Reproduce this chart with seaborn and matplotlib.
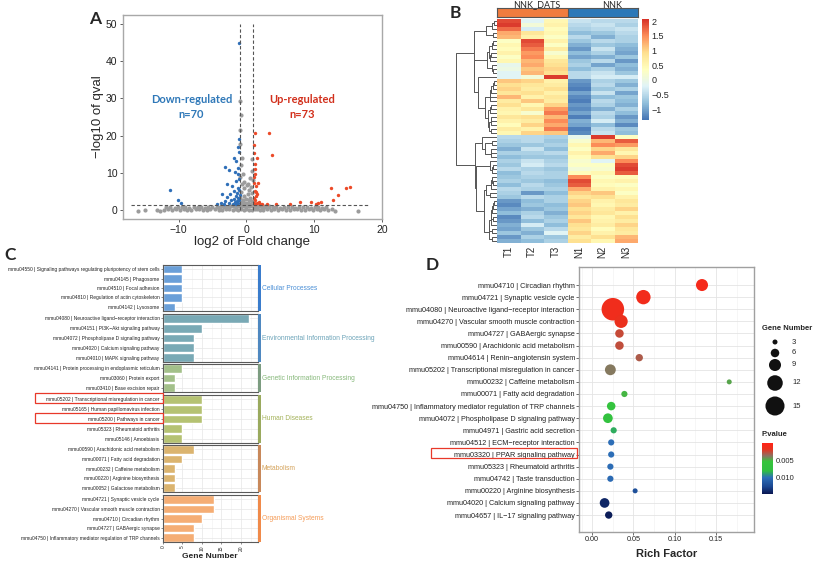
import numpy as np
import pandas as pd
import seaborn as sns
import matplotlib.pyplot as plt
from matplotlib.colors import LinearSegmentedColormap, ListedColormap, Normalize
from matplotlib.cm import ScalarMappable
from matplotlib.patches import Rectangle

sns.set_theme(style="white")
plt.rcParams['font.family'] = ['Liberation Sans', 'DejaVu Sans']
HEAD = ['Lato', 'DejaVu Sans']

# ---------------- A: volcano data ----------------
gray_x = [-12.1, -11.5, -10.9, -10.4, -9.8, -9.2, -8.7, -8.1, -7.5, -7.0, -6.4, -5.8, -5.3, -4.7,
          -4.1, -3.6, -3.0, -2.5, -2.0, -1.6, -1.2, -0.8, -0.4, 0.0, 0.4, 0.8, 1.2, 1.6, 2.0, 2.5,
          3.0, 3.6, 4.1, 4.7, 5.3, 5.8, 6.4, 7.0, 7.5, 8.1, 8.7, 9.2, 9.8, 10.4, 10.9, 11.5, 12.0,
          -11.8, -11.2, -10.6, -10.1, -9.5, -9.0, -8.4, -7.8, -7.2, -6.7, -6.1, -5.6, -5.0, -4.4,
          -3.9, -3.3, -2.8, -2.3, -1.8, -1.4, -1.0, -0.6, -0.2, 0.2, 0.6, 1.0, 1.4, 1.8, 2.3, 2.8,
          3.3, 3.9, 4.4, 5.0, 5.6, 6.1, 6.7, 7.2, 7.8, 8.4, 9.0, 9.5, 10.1, 10.6, 11.2, 11.8,
          -0.9, -0.85, -0.9, -0.95, -0.7, -0.8, 0.9, 0.85, -0.5, 0.6, -0.6, -0.3, 0.1, 0.4, 0.7,
          -0.8, 0.9, -0.4, 0.2, 0.6, -0.9, -0.1, 0.8, -0.6, 0.3, -0.2, 0.5, -0.7, 0.0, -0.4, 0.3,
          -0.95, 0.95, -1.8, 1.9, -2.6, 2.8, -1.0, 1.0, -3.5, 3.4, -0.5, 0.45,
          -16.0, -14.9, -13.2, -12.8, 12.6, 13.0, 16.4]
gray_y = [0.1, 0.2, 0.0, 0.3, 0.1, 0.2, 0.0, 0.1, 0.3, 0.2, 0.0, 0.1, 0.2, 0.3,
          0.1, 0.0, 0.2, 0.3, 0.1, 0.2, 0.0, 0.3, 0.1, 0.2, 0.0, 0.1, 0.3, 0.2, 0.1, 0.0,
          0.2, 0.1, 0.3, 0.0, 0.2, 0.1, 0.0, 0.3, 0.2, 0.1, 0.0, 0.2, 0.1, 0.3, 0.0, 0.2, 0.1,
          0.7, 0.8, 0.6, 0.9, 0.7, 0.8, 0.6, 0.9, 0.7, 0.8, 0.6, 0.7, 0.9, 0.8,
          0.7, 0.9, 0.8, 1.0, 1.1, 1.2, 1.0, 1.1, 1.2, 1.1, 1.2, 1.0, 1.2, 1.1, 0.9, 0.8,
          0.7, 0.9, 0.8, 0.6, 0.7, 0.9, 0.8, 0.6, 0.7, 0.8, 0.9, 0.6, 0.8, 0.7, 0.6, 0.7,
          29.3, 25.5, 21.5, 17.8, 14.0, 12.2, 13.6, 10.4, 9.6, 8.7, 6.9, 5.8, 6.6, 5.4, 6.2,
          4.9, 4.6, 3.9, 4.2, 3.3, 3.2, 2.9, 2.4, 2.3, 2.0, 1.8, 1.6, 1.5, 1.4, 7.6, 7.1,
          9.0, 8.0, 1.0, 1.1, 1.1, 1.0, 1.2, 1.3, 1.2, 1.1, 2.6, 2.8,
          -0.2, 0.0, 0.1, -0.3, 0.3, -0.2, -0.3]
down_x = [-11.2, -10.1, -9.7, -4.3, -3.8, -3.3, -3.1, -2.9, -2.6, -2.4, -2.2, -2.1, -2.0, -1.9,
          -1.8, -1.7, -1.6, -1.6, -1.5, -1.5, -1.4, -1.4, -1.3, -1.3, -1.3, -1.2, -1.2, -1.2,
          -1.1, -1.1, -1.1, -1.1, -2.5, -3.2, -1.9, -2.9, -1.7, -3.6, -1.05, -1.05, -1.0]
down_y = [5.4, 2.7, 1.8, 1.6, 2.0, 1.5, 2.4, 3.4, 1.9, 4.3, 2.6, 6.5, 1.6, 3.1,
          5.0, 2.2, 7.8, 3.8, 1.7, 13.2, 4.6, 2.5, 17.0, 6.0, 9.7, 3.2, 1.9, 11.2,
          45.0, 5.4, 8.3, 15.5, 10.8, 11.5, 14.0, 7.0, 10.1, 4.4, 2.8, 19.0, 4.0]
up_x = [1.2, 3.4, 1.5, 3.8, 1.1, 1.2, 1.3, 1.1, 1.4, 1.2, 1.5, 1.1, 1.3, 1.6, 1.2, 1.8, 2.0,
        2.3, 1.4, 1.1, 1.7, 1.25, 1.15, 3.0, 4.4, 6.5, 7.9, 9.6, 10.3, 11.0, 10.6, 12.8,
        13.5, 12.5, 14.7, 15.3, 1.05, 1.35]
up_y = [20.8, 20.6, 14.0, 14.8, 15.3, 12.5, 9.8, 7.4, 6.4, 5.2, 4.2, 3.3, 2.6, 1.8, 1.6, 2.2,
        1.5, 1.7, 3.8, 2.0, 7.3, 11.0, 8.8, 1.5, 1.6, 1.6, 2.3, 2.1, 1.7, 2.3, 1.8, 2.7,
        4.0, 5.9, 5.9, 6.1, 17.5, 4.8]

# ---------------- B: heatmap data (z-scores, rows top to bottom) ----------------
samples = ["T1", "T2", "T3", "N1", "N2", "N3"]
groups = [0, 0, 0, 1, 1, 1]
heat = np.array([
    [1.9, -0.2, 0.5, -0.4, -0.5, -0.5], [2.0, 0.1, 0.6, -0.5, -0.4, -0.6],
    [1.7, -0.3, 0.4, -0.6, -0.5, -0.4], [1.3, 0.8, 0.5, -0.8, -0.7, -0.5],
    [1.2, 0.6, 0.3, -0.5, -0.9, -0.6], [0.3, 1.9, 0.6, -0.7, -0.5, -0.6],
    [0.5, 1.8, 0.3, -0.9, -0.7, -0.8], [0.4, 1.6, 0.7, -1.1, -0.4, -0.9],
    [0.6, 1.4, 0.2, -0.8, -0.6, -1.0], [0.3, 1.5, 0.5, -1.0, -0.9, -0.7],
    [0.5, 1.2, 0.8, -0.7, -0.5, -1.1], [-0.1, 1.3, 0.9, -0.6, -1.0, -0.8],
    [0.0, 1.1, 1.0, -0.8, -0.6, -0.9], [-0.2, 1.2, 0.9, -0.5, -0.4, -0.7],
    [-0.2, 0.1, 2.0, -0.5, -0.3, -0.3], [1.1, 1.0, 0.6, -1.1, -0.6, -0.7],
    [0.9, 0.8, 0.7, -1.2, -0.5, -0.9], [1.0, 0.7, 0.9, -1.3, -0.7, -0.6],
    [0.8, 0.9, 0.6, -1.0, -0.4, -1.0], [1.2, 0.6, 0.8, -1.2, -0.8, -0.7],
    [0.7, 1.1, 0.7, -1.3, -0.5, -0.8], [0.9, 0.5, 1.0, -1.1, -0.6, -0.9],
    [0.6, 0.8, 1.4, -1.2, -0.9, -0.6], [0.5, 0.2, 1.6, -1.0, -0.5, -0.8],
    [0.8, 0.9, 1.2, -1.3, -0.6, -1.1], [0.6, 0.7, 1.5, -0.9, -0.3, -0.9],
    [0.4, 1.0, 1.3, -1.0, -0.8, -1.2], [0.7, 0.6, 1.6, -1.3, -0.5, -0.7],
    [0.5, 1.0, 1.1, -1.2, -0.4, -0.8], [-0.5, -0.5, -0.6, -0.1, 2.0, 0.3],
    [-0.6, -0.5, -0.7, 0.2, 1.2, 1.8], [-0.7, -0.7, -0.6, 0.5, 1.5, 1.4],
    [-0.9, -0.4, -0.8, 0.3, 1.0, 0.8], [-0.6, -0.6, -0.5, 0.6, 1.3, 0.5],
    [-0.8, -0.7, -0.7, 0.4, 0.9, 1.0], [-0.6, -0.4, -0.6, 0.2, -0.2, 1.5],
    [-0.7, -0.3, -0.5, 0.3, 0.3, 1.9], [-0.5, -0.6, -0.7, 0.1, 0.2, 2.0],
    [-0.8, -0.5, -0.6, 0.4, 0.5, 1.8], [-0.7, -0.6, -0.6, 1.5, 0.3, 0.4],
    [-0.6, -0.7, -0.8, 1.9, 0.5, 0.6], [-0.8, -0.5, -0.7, 1.8, 0.4, 0.3],
    [-0.5, -0.6, -0.6, 1.3, 0.6, 0.5], [-0.6, -1.1, -0.8, 1.0, 1.1, 0.3],
    [-0.7, -0.5, -0.6, 0.8, 0.9, 0.6], [-1.1, -0.8, -0.6, 1.0, 0.6, 0.8],
    [-1.2, -0.7, -0.8, 1.1, 0.5, 0.7], [-1.0, -0.9, -0.7, 0.9, 0.7, 1.0],
    [-0.8, -0.6, -0.9, 1.0, 0.8, 0.6], [-1.2, -0.5, -0.7, 0.8, 0.5, 0.9],
    [-1.1, -0.8, -0.6, 1.1, 0.6, 0.7], [-0.9, -0.3, -0.8, 0.9, 0.7, 1.0],
    [-1.0, -0.7, -0.5, 0.8, 0.4, 0.8], [-0.7, -0.9, -0.2, 1.0, 0.6, 0.7],
    [-1.1, -0.6, -0.7, 0.7, 0.9, 1.2], [-0.9, -0.8, -0.6, 0.9, 0.5, 1.3],
])
heat_ticks = [-1, -0.5, 0, 0.5, 1, 1.5, 2]

# ---------------- C: KEGG classification ----------------
cell_terms = ["mmu04550 | Signaling pathways regulating pluripotency of stem cells", "mmu04145 | Phagosome",
              "mmu04510 | Focal adhesion", "mmu04810 | Regulation of actin cytoskeleton", "mmu04142 | Lysosome"]
cell_genes = [5, 5, 5, 5, 3]
env_terms = ["mmu04080 | Neuroactive ligand\u2212receptor interaction", "mmu04151 | PI3K\u2212Akt signaling pathway",
             "mmu04072 | Phospholipase D signaling pathway", "mmu04020 | Calcium signaling pathway",
             "mmu04010 | MAPK signaling pathway"]
env_genes = [22, 10, 8, 8, 8]
gen_terms = ["mmu04141 | Protein processing in endoplasmic reticulum", "mmu03060 | Protein export",
             "mmu03410 | Base excision repair"]
gen_genes = [5, 3, 3]
hum_terms = ["mmu05202 | Transcriptional misregulation in cancer", "mmu05165 | Human papillomavirus infection",
             "mmu05200 | Pathways in cancer", "mmu05323 | Rheumatoid arthritis", "mmu05146 | Amoebiasis"]
hum_genes = [10, 10, 10, 5, 5]
met_terms = ["mmu00590 | Arachidonic acid metabolism", "mmu00071 | Fatty acid degradation",
             "mmu00232 | Caffeine metabolism", "mmu00220 | Arginine biosynthesis", "mmu00052 | Galactose metabolism"]
met_genes = [8, 5, 3, 3, 3]
org_terms = ["mmu04721 | Synaptic vesicle cycle", "mmu04270 | Vascular smooth muscle contraction",
             "mmu04710 | Circadian rhythm", "mmu04727 | GABAergic synapse",
             "mmu04750 | Inflammatory mediator regulation of TRP channels"]
org_genes = [13, 13, 10, 8, 8]
class_names = ["Cellular Processes", "Environmental Information Processing", "Genetic Information Processing",
               "Human Diseases", "Metabolism", "Organismal Systems"]

# ---------------- D: enrichment ----------------
d_terms = ["mmu04710 | Circadian rhythm", "mmu04721 | Synaptic vesicle cycle",
           "mmu04080 | Neuroactive ligand\u2212receptor interaction", "mmu04270 | Vascular smooth muscle contraction",
           "mmu04727 | GABAergic synapse", "mmu00590 | Arachidonic acid metabolism",
           "mmu04614 | Renin\u2212angiotensin system", "mmu05202 | Transcriptional misregulation in cancer",
           "mmu00232 | Caffeine metabolism", "mmu00071 | Fatty acid degradation",
           "mmu04750 | Inflammatory mediator regulation of TRP channels",
           "mmu04072 | Phospholipase D signaling pathway", "mmu04971 | Gastric acid secretion",
           "mmu04512 | ECM\u2212receptor interaction", "mmu03320 | PPAR signaling pathway",
           "mmu05323 | Rheumatoid arthritis", "mmu04742 | Taste transduction",
           "mmu00220 | Arginine biosynthesis", "mmu04020 | Calcium signaling pathway",
           "mmu04657 | IL\u221217 signaling pathway"]
d_rich = [0.133, 0.062, 0.025, 0.035, 0.033, 0.033, 0.057, 0.022, 0.166, 0.039,
          0.023, 0.019, 0.026, 0.023, 0.023, 0.022, 0.022, 0.052, 0.015, 0.020]
d_genes = [9, 11, 18, 10, 6, 6, 5, 8, 3, 4, 6, 7, 4, 4, 4, 4, 4, 3, 7, 5]
d_pval = [0.0008, 0.0010, 0.0012, 0.0016, 0.0025, 0.0026, 0.0030, 0.0038, 0.0047, 0.0050,
          0.0060, 0.0065, 0.0085, 0.0100, 0.0101, 0.0102, 0.0103, 0.0120, 0.0140, 0.0144]
legend_genes = [3, 6, 9, 12, 15]

W, H = 817, 564
fig = plt.figure(figsize=(8.17, 5.64), dpi=100)


def box(x0, y0, x1, y1):
    return [x0 / W, 1 - y1 / H, (x1 - x0) / W, (y1 - y0) / H]


def dot_size(g):
    return ((1.5 + 1.17 * g) * 0.72) ** 2


# ---- A
axA = fig.add_axes(box(123, 15, 382, 219))
sns.scatterplot(x=gray_x, y=gray_y, ax=axA, color="#9c9c9c", s=9, linewidth=0, legend=False)
sns.scatterplot(x=down_x, y=down_y, ax=axA, color="#2f6fb8", s=6, linewidth=0, legend=False)
sns.scatterplot(x=up_x, y=up_y, ax=axA, color="#ec4a28", s=6, linewidth=0, legend=False)
axA.vlines([-1, 1], 0, 50, colors="#555555", linestyles=(0, (3, 2)), lw=0.8)
axA.hlines(1.3, -17, 18, colors="#555555", linestyles=(0, (3, 2)), lw=0.8)
axA.set_xlim(-18.2, 20)
axA.set_ylim(-2.4, 52.4)
axA.set_xticks([-10, 0, 10, 20])
axA.set_yticks([0, 10, 20, 30, 40, 50])
axA.tick_params(length=2.5, width=0.6, color="#444444", labelsize=7.5, pad=1.5, labelcolor="#222222",
                bottom=True, left=True)
for s in axA.spines.values():
    s.set_color("#a8a8a8")
    s.set_linewidth(1)
axA.set_xlabel("log2 of Fold change", fontsize=9.5, labelpad=1)
axA.set_ylabel("\u2212log10 of qval", fontsize=9.5, labelpad=1)
axA.text(-8.1, 29.6, "Down-regulated", ha="center", va="center", color="#2f78b8",
         fontsize=8, fontweight="bold", family=HEAD)
axA.text(-8.1, 25.8, "n=70", ha="center", va="center", color="#2f78b8", fontsize=8, fontweight="bold", family=HEAD)
axA.text(8.2, 29.6, "Up-regulated", ha="center", va="center", color="#d2301c",
         fontsize=8, fontweight="bold", family=HEAD)
axA.text(8.2, 25.8, "n=73", ha="center", va="center", color="#d2301c", fontsize=8, fontweight="bold", family=HEAD)

# ---- B
rdylbu = LinearSegmentedColormap.from_list(
    "rdylbu", ["#4575B4", "#91BFDB", "#E0F3F8", "#FFFFBF", "#FEE090", "#FC8D59", "#D73027"])
axH = fig.add_axes(box(497, 19, 638, 243))
axCb = fig.add_axes(box(642, 19, 649, 120))
sns.heatmap(heat, ax=axH, cmap=rdylbu, vmin=-1.37, vmax=2.07, cbar_ax=axCb,
            xticklabels=samples, yticklabels=False)
axH.set_xticklabels(samples, rotation=90)
axH.tick_params(axis="x", length=0, labelsize=7, pad=2)
cb = axH.collections[0].colorbar
cb.outline.set_visible(False)
cb.set_ticks(heat_ticks)
cb.set_ticklabels(["\u22121", "\u22120.5", "0", "0.5", "1", "1.5", "2"])
cb.ax.tick_params(length=0, labelsize=6.5, pad=2)

axAnn = fig.add_axes(box(497, 8, 638, 17))
sns.heatmap(np.array([groups]), ax=axAnn, cmap=ListedColormap(["#f07c3e", "#2c78b8"]), cbar=False,
            xticklabels=False, yticklabels=False)
for s in axAnn.spines.values():
    s.set_visible(True)
    s.set_color("#555555")
    s.set_linewidth(0.8)
axAnn.axvline(3, color="#555555", lw=0.8)


def adjacent_linkage(M):
    clusters = [[i] for i in range(len(M))]
    pos = [i + 0.5 for i in range(len(M))]
    hgt = [0.0] * len(M)
    segs = []
    while len(clusters) > 1:
        best = None
        for k in range(len(clusters) - 1):
            a = M[clusters[k]]
            b = M[clusters[k + 1]]
            d = np.sqrt(((a[:, None, :] - b[None, :, :]) ** 2).sum(-1)).max()
            if best is None or d < best[0]:
                best = (d, k)
        d, k = best
        h = max(d, hgt[k], hgt[k + 1])
        segs.append(([hgt[k], h, h, hgt[k + 1]], [pos[k], pos[k], pos[k + 1], pos[k + 1]]))
        clusters[k] = clusters[k] + clusters.pop(k + 1)
        pos[k] = (pos[k] + pos.pop(k + 1)) / 2
        hgt[k] = h
        hgt.pop(k + 1)
    return segs, hgt[0]


axDen = fig.add_axes(box(455, 19, 497, 243))
segs, root = adjacent_linkage(heat)
for xs, ys in segs:
    axDen.plot(xs, ys, color="#555555", lw=0.7)
axDen.set_xlim(root * 1.02, 0)
axDen.set_ylim(len(heat), 0)
axDen.axis("off")

# ---- C
c_terms = [cell_terms, env_terms, gen_terms, hum_terms, met_terms, org_terms]
c_genes = [cell_genes, env_genes, gen_genes, hum_genes, met_genes, org_genes]
bar_cols = ["#6a9fd8", "#79a9b5", "#a3c08a", "#b5c272", "#dbb46f", "#f5ad74"]
txt_cols = ["#4a8fd6", "#6ba3b8", "#86b87a", "#a4b25a", "#d4a25a", "#f59c58"]
strip_cols = ["#3a7ccc", "#4f88c0", "#7c9c80", "#9aaa5e", "#c8885a", "#f08a4a"]
facet_y = [(265, 311), (314, 362), (364, 392), (395, 443), (445, 492), (495, 542)]
for i in range(6):
    y0, y1 = facet_y[i]
    n = len(c_terms[i])
    ax = fig.add_axes(box(163, y0, 258, y1))
    sns.barplot(x=c_genes[i], y=c_terms[i], ax=ax, color=bar_cols[i], saturation=1, width=0.9, orient="h")
    ax.set_xlim(0, 24.4)
    ax.set_ylim(n - 0.55, -0.45)
    ax.set_xticks([0, 5, 10, 15, 20])
    ax.set_xticks([2.5, 7.5, 12.5, 17.5, 22.5], minor=True)
    ax.grid(True, which="major", color="#e6e6e6", lw=0.5)
    ax.grid(True, which="minor", axis="x", color="#f0f0f0", lw=0.4)
    ax.set_axisbelow(True)
    ax.set_xlabel("")
    ax.set_ylabel("")
    ax.tick_params(axis="y", labelsize=3.5, length=1.5, width=0.4, pad=1, color="#333333",
                   labelcolor="#222222", left=True)
    if i == 5:
        ax.tick_params(axis="x", labelsize=3.5, length=1.5, width=0.4, pad=1, rotation=90,
                       color="#333333", bottom=True)
    else:
        ax.tick_params(axis="x", labelbottom=False, length=0)
    for s in ax.spines.values():
        s.set_color("#5a5a5a")
        s.set_linewidth(0.8)
    st = fig.add_axes(box(258, y0, 261, y1))
    st.set_facecolor(strip_cols[i])
    st.set_xticks([])
    st.set_yticks([])
    for s in st.spines.values():
        s.set_visible(False)

# ---- D
pcmap = LinearSegmentedColormap.from_list("pv", [
    (0.0, "#ff2418"), (0.12, "#e8321e"), (0.25, "#8c7262"), (0.36, "#36c43c"),
    (0.55, "#30bf42"), (0.68, "#2d6fb8"), (0.86, "#1a4690"), (1.0, "#0a1650")])
pnorm = (0, 0.0147)
df_d = pd.DataFrame({"term": d_terms, "rich": d_rich, "genes": d_genes, "p": d_pval})
axDot = fig.add_axes(box(579, 267, 754, 532))
sns.scatterplot(data=df_d, x="rich", y="term", hue="p", palette=pcmap, hue_norm=pnorm,
                size="genes", sizes={g: dot_size(g) for g in set(d_genes)}, legend=False,
                linewidth=0, ax=axDot, zorder=3)
axDot.set_xlim(-0.016, 0.196)
axDot.set_ylim(20.4, -1.49)
axDot.set_xticks([0, 0.05, 0.10, 0.15])
axDot.set_xticklabels(["0.00", "0.05", "0.10", "0.15"])
axDot.set_xticks([-0.0125, 0.025, 0.075, 0.125, 0.175], minor=True)
axDot.grid(True, which="major", color="#e4e4e4", lw=0.6)
axDot.grid(True, which="minor", axis="x", color="#efefef", lw=0.4)
axDot.set_axisbelow(True)
axDot.set_xlabel("")
axDot.set_ylabel("")
axDot.tick_params(labelsize=5.2, length=2, width=0.5, pad=1, color="#333333", labelcolor="#222222",
                  left=True, bottom=True)
for s in axDot.spines.values():
    s.set_color("#a0a0a0")
    s.set_linewidth(1)

axP = fig.add_axes(box(762, 443, 773, 494))
cbp = fig.colorbar(ScalarMappable(norm=Normalize(*pnorm), cmap=pcmap), cax=axP)
axP.invert_yaxis()
cbp.outline.set_visible(False)
cbp.set_ticks([0.005, 0.010])
cbp.set_ticklabels(["0.005", "0.010"])
axP.tick_params(length=0, labelsize=5.5, pad=2)

# ---- overlay: panel letters, annotations, legends
ov = fig.add_axes([0, 0, 1, 1])
ov.set_xlim(0, W)
ov.set_ylim(H, 0)
ov.axis("off")
for lab, x, y in [("A", 95, 19), ("B", 455, 13), ("C", 10, 255), ("D", 432, 265)]:
    ov.text(x, y, lab, fontsize=12.5, fontweight="bold", family=HEAD, ha="center", va="center")
ov.text(537, 5, "NNK_DATS", fontsize=6.5, family=HEAD, ha="center", va="center")
ov.text(612, 5, "NNK", fontsize=6.5, family=HEAD, ha="center", va="center")
for i in range(6):
    y0, y1 = facet_y[i]
    ov.text(262, (y0 + y1) / 2, class_names[i], fontsize=4.8, color=txt_cols[i], ha="left", va="center")
ov.text(210, 557, "Gene Number", fontsize=6, fontweight="bold", ha="center", va="center")
ov.text(667, 554, "Rich Factor", fontsize=8, fontweight="bold", ha="center", va="center")
for (x, y, w, h) in [(35, 393, 128, 10), (35, 413, 128, 10), (431, 448, 146, 10)]:
    ov.add_patch(Rectangle((x, y), w, h, fill=False, edgecolor="#e8392a", lw=0.9))
ov.text(762, 328, "Gene Number", fontsize=5.5, fontweight="bold", ha="left", va="center")
leg_y = [342, 353, 365, 383, 406]
ov.scatter([775] * 5, leg_y, s=[dot_size(g) for g in legend_genes], color="#111111", linewidths=0)
for g, y in zip(legend_genes, leg_y):
    ov.text(792, y, str(g), fontsize=5.5, ha="left", va="center")
ov.text(762, 434, "P.value", fontsize=5.5, fontweight="bold", ha="left", va="center")

fig.savefig("out.png", dpi=100)
